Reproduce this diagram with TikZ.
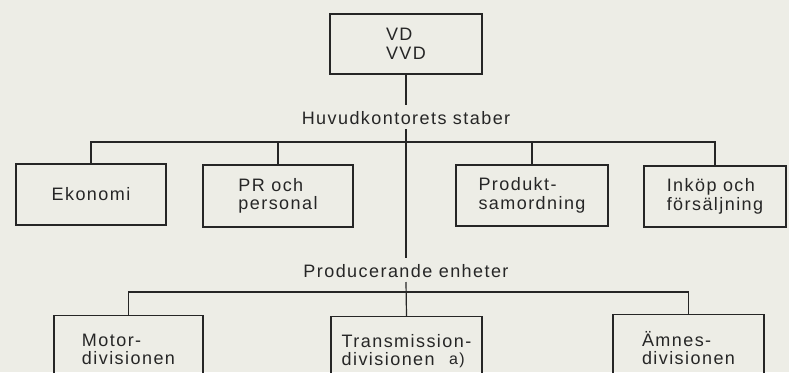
\documentclass[tikz,border=0pt]{standalone}
\usepackage{fontspec}
\setmainfont{Liberation Sans}[LetterSpace=8]
\definecolor{paper}{RGB}{237,237,230}
\definecolor{inkc}{RGB}{38,38,38}
\begin{document}
\begin{tikzpicture}[x=1pt,y=-1pt,
  every node/.style={text=inkc, font=\fontsize{18}{18.5}\selectfont},
  orgbox/.style={draw=inkc, line width=1.3pt, inner sep=0pt, align=left},
  lbl/.style={inner sep=0pt, anchor=base},
  conn/.style={draw=inkc, line width=1.2pt}]
\fill[paper] (0,0) rectangle (789,372);
\useasboundingbox (0,0) rectangle (789,372);
\clip (0,0) rectangle (789,372);
% top
\node[orgbox, minimum width=152pt, minimum height=60pt] (vd) at (406,44) {VD\\VVD};
\node[lbl] (huv) at (406,124) {Huvudkontorets staber};
% staff boxes
\node[orgbox, minimum width=150pt, minimum height=61pt] (eko) at (91,194.5) {Ekonomi};
\node[orgbox, minimum width=150pt, minimum height=62pt] (pr) at (278,196) {PR och\\personal};
\node[orgbox, minimum width=152pt, minimum height=61pt] (prod) at (532,195.5) {Produkt-\\samordning};
\node[orgbox, minimum width=142pt, minimum height=61pt] (ink) at (715,196.5) {Inköp och\\försäljning};
% producing units
\node[lbl] (pe) at (406,277) {Producerande enheter};
\node[orgbox, minimum width=149pt, minimum height=104pt, anchor=north] (motor) at (128.5,315) {Motor-\\divisionen\\\mbox{}\\\mbox{}};
\node[orgbox, minimum width=151pt, minimum height=104pt, anchor=north] (trans) at (406.5,316) {Transmission-\\divisionen\hspace{0.8em}\raisebox{1.5pt}{\fontsize{16}{16}\selectfont a)}\\\mbox{}\\\mbox{}};
\node[orgbox, minimum width=151pt, minimum height=104pt, anchor=north] (amnes) at (688.5,314) {Ämnes-\\divisionen\\\mbox{}\\\mbox{}};
% bus coordinates
\coordinate (busA) at (406,142);
\coordinate (busB) at (406,292);
% connectors
\draw[conn] (vd.south) -- ([yshift=6pt]huv.north);
\draw[conn] ([yshift=-5pt]huv.base) -- ([yshift=6pt]pe.north);
\draw[conn] (eko.north) |- (busA) -| (ink.north);
\draw[conn] (pr.north) -- (pr.north |- busA);
\draw[conn] (prod.north) -- (prod.north |- busA);
\draw[conn] (motor.north) |- (busB) -| (amnes.north);
\draw[conn] ([yshift=-5pt]pe.base) -- (trans.north);
\end{tikzpicture}
\end{document}
